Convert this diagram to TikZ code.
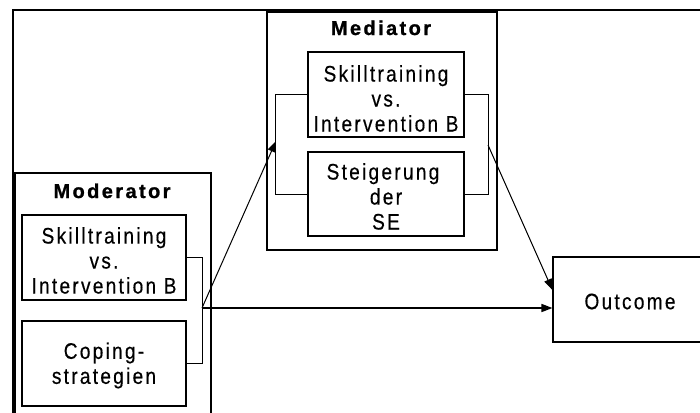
\documentclass[tikz,border=0pt]{standalone}
\usepackage{fontspec}
\usetikzlibrary{arrows.meta}
\newfontfamily\lblfont{Liberation Sans}[FakeStretch=0.85,LetterSpace=10,FakeBold=0.4]
\newfontfamily\ttlfont{Liberation Sans}[UprightFont=* Bold,LetterSpace=12,FakeBold=1]
\begin{document}
\begin{tikzpicture}[x=1pt,y=-1pt,
  inner/.style={draw, line width=1.1pt, inner sep=0pt, minimum width=164pt, minimum height=85pt},
  txt/.style={align=center, inner sep=0pt, font=\lblfont\fontsize{22.5}{25}\selectfont},
  group/.style={draw, line width=1.5pt, inner sep=0pt},
  ttl/.style={font=\ttlfont\fontsize{20}{24}\selectfont, inner sep=0pt, anchor=base},
  wire/.style={line width=1pt},
  arr/.style={line width=1pt, -{Triangle[length=11pt,width=8pt]}},
]
\useasboundingbox (0,0) rectangle (700,412);
\clip (0,0) rectangle (700,412);

% outer frame (open to the right and bottom)
\draw[line width=2.5pt] (13,420) -- (13,10) -- (710,10);

% Mediator group
\node[group, minimum width=230pt, minimum height=238pt] (med) at (382,131) {};
\node[ttl] (medT) at (381,35) {Mediator};
\node[inner, minimum width=156pt] (medA) at (386,94.5) {};
\node[txt, yshift=-4pt] (medAt) at (medA) {Skilltraining\\vs.\\Intervention B};
\node[inner, minimum width=156pt, minimum height=84pt] (medB) at (386,194) {};
\node[txt, yshift=-2.5pt, xshift=-3pt] (medBt) at (medB) {Steigerung\\\hspace*{6pt}der\\\hspace*{6pt}SE};

% Moderator group
\node[group, minimum width=196pt, minimum height=250pt] (mod) at (113,298) {};
\node[ttl] (modT) at (112,198) {Moderator};
\node[inner] (modA) at (104,257.5) {};
\node[txt, yshift=-3pt] (modAt) at (modA) {Skilltraining\\vs.\\Intervention B};
\node[inner] (modB) at (104,363.5) {};
\node[txt, yshift=-2pt] (modBt) at (modB) {Coping-\\strategien};

% Outcome
\node[inner, minimum width=154pt] (outc) at (630,299.5) {};
\node[txt, yshift=-2pt] (outct) at (outc) {Outcome};

% brackets joining the paired boxes
\draw[wire] (modA.east) -- ++(16,0) |- (modB.east);
\draw[wire] (medA.west) -- ++(-32,0) |- (medB.west);
\draw[wire] (medA.east) -- ++(24,0) |- (medB.east);

\coordinate (modJ) at (202,308);
\coordinate (medL) at (276,141);
\coordinate (medR) at (488,145);
\coordinate (outIn) at ([yshift=9.5pt]outc.west);

% paths
\draw[arr, line width=1.6pt] (modJ) -- (modJ -| outc.west);
\draw[arr] (modJ) -- (medL);
\draw[arr] (medR) -- (outIn);
\end{tikzpicture}
\end{document}
